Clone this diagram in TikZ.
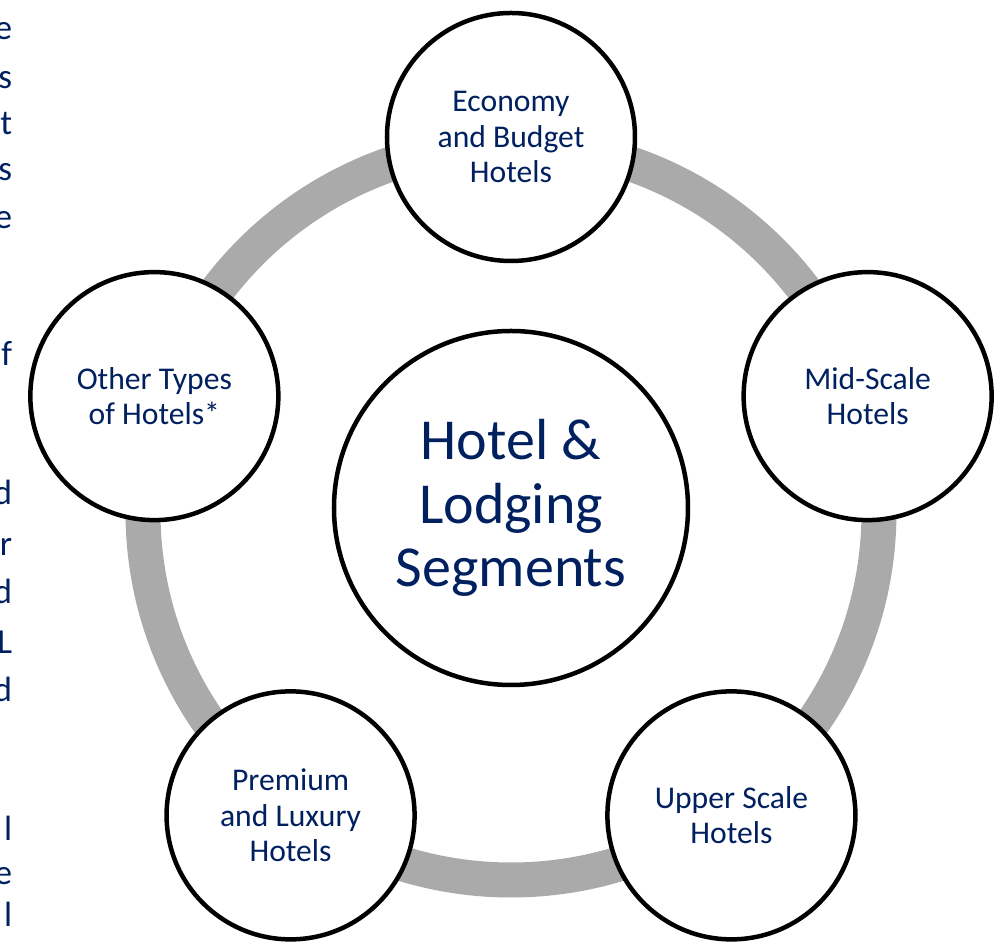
\documentclass[tikz,border=0pt]{standalone}
\usepackage{fontspec}
\setmainfont{Carlito}
\definecolor{navy}{RGB}{0,32,96}
\definecolor{ringgray}{RGB}{170,170,170}

\begin{document}
\begin{tikzpicture}[
    seg/.style={circle, draw=black, line width=0.09cm, fill=white, text=navy,
        minimum size=4.96cm, inner sep=0pt, align=center,
        font=\fontsize{18}{20}\selectfont},
    hub/.style={seg, minimum size=7.08cm, font=\fontsize{33}{36}\selectfont},
    cut/.style={anchor=base east, inner sep=0pt, text=navy,
        font=\fontsize{20}{22}\selectfont}
    ]
        \useasboundingbox (-10.22,-8.62) rectangle (9.92,10.24);

        \draw[line width=0.7cm, ringgray] (0,0) circle (7.36cm);

        \node[hub] (0) at (0,0.08) {Hotel \&\\Lodging\\Segments};

        \node[seg] (1) at (90:7.5) {Economy\\and Budget\\Hotels};
        \node[seg] (2) at (18:7.5) {Mid-Scale\\Hotels};
        \node[seg] (3) at (-54:7.5) {Upper Scale\\Hotels};
        \node[seg] (4) at (-126:7.5) {Premium\\and Luxury\\Hotels};
        \node[seg] (5) at (162:7.5) {Other Types\\of Hotels*};

        % letters of the cut-off paragraph at the left edge
        \foreach \ch/\y [count=\i] in {e/40, s/89, t/135, s/181, e/229, f/366,
                d/505, r/555, d/603, L/653, d/701, l/840, e/884, l/926}
            \node[cut] (t\i) at (-9.97,{(512-\y)*0.02}) {\ch};
    \end{tikzpicture}
\end{document}
